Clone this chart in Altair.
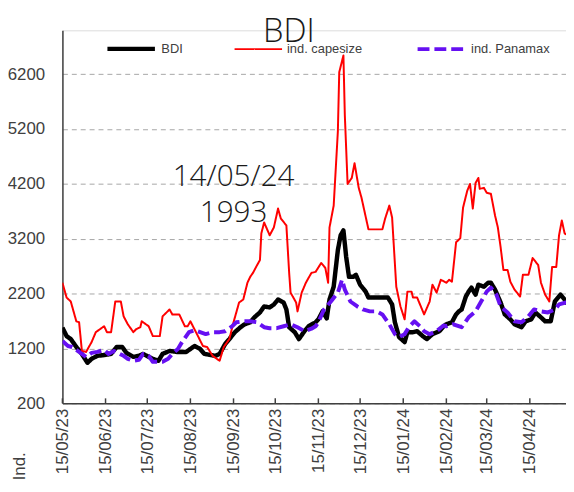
import altair as alt
import pandas as pd

START = "2023-05-15"
SERIES = ["BDI", "ind. capesize", "ind. Panamax"]
COLORS = ["#000000", "#ff0000", "#6610f2"]

# days after 15/05/23 and index values
bdi_days = [0,3,6,10,13,18,21,25,31,35,39,43,46,51,55,58,62,65,69,72,77,82,89,91,95,99,102,106,110,113,
            117,120,124,128,131,135,138,142,145,149,152,155,159,161,163,167,170,174,177,182,184,187,190,192,195,
            198,200,202,204,206,209,211,214,218,220,234,237,239,242,246,248,252,255,259,262,266,271,274,276,280,
            283,285,287,290,292,294,297,299,303,306,308,311,315,318,322,325,330,333,337,340,344,347,351,354,358,
            361,362,365]
bdi_vals = [1580,1425,1371,1227,1137,939,1011,1065,1083,1101,1227,1227,1119,1047,1065,1101,1047,1011,975,1101,
            1155,1137,1137,1173,1245,1191,1101,1083,1065,1101,1281,1371,1497,1587,1641,1677,1767,1857,1966,1948,
            2002,2092,2038,1911,1587,1497,1371,1515,1605,1677,1731,1876,1749,2092,2326,2993,3263,3353,2866,2506,
            2506,2542,2362,2236,2128,2128,2002,1677,1407,1317,1497,1497,1515,1425,1371,1461,1515,1605,1641,1677,
            1821,1876,1911,2146,2236,2308,2182,2362,2326,2398,2398,2272,2038,1821,1731,1641,1587,1695,1731,1857,
            1767,1695,1695,2056,2182,2092,2038,1993]

cape_days = [0,3,6,10,12,14,17,21,24,30,32,35,38,42,44,47,51,53,56,57,62,65,70,72,77,79,84,88,90,92,
             96,101,104,108,113,116,120,123,127,130,133,135,137,140,142,143,145,149,152,155,157,161,163,164,168,
             169,172,175,179,182,186,189,191,192,195,198,199,202,203,205,208,210,213,215,220,230,232,235,237,240,
             243,246,248,251,252,255,260,264,266,269,272,276,278,280,283,286,288,291,293,295,297,299,300,303,305,
             308,311,313,315,317,320,322,325,329,331,335,338,342,344,347,350,352,355,357,359,361,362,365]
cape_vals = [2398,2128,2056,1695,1677,1155,1137,1317,1497,1605,1497,1497,2056,2056,1785,1641,1497,1551,1587,1695,
             1605,1425,1425,1785,1911,1821,1821,1605,1605,1695,1497,1245,1227,1065,975,1227,1371,1677,2038,2092,
             2398,2506,2578,2722,2812,3299,3497,3263,3407,3750,3569,3443,2578,2218,2038,1876,2218,2398,2578,2596,
             2758,2668,2398,3407,3804,5155,6236,6542,5461,4200,4308,4578,4128,3948,3371,3371,3569,3804,3587,2326,
             1966,1731,2236,2236,2128,2128,1821,2056,2362,2218,2452,2398,2452,2416,3137,3209,3768,4074,4200,3750,
             4218,4308,4110,4128,4038,4020,3623,3407,3047,2632,2632,2416,2272,2146,2542,2542,2848,2722,2398,2182,
             2056,2686,2686,3263,3533,3299,3281,3280]

pmx_days = [0,4,7,12,17,21,25,30,33,37,40,44,47,51,55,58,62,65,69,72,76,79,83,86,91,95,99,103,108,113,
            117,122,125,130,135,140,145,149,154,159,164,169,174,179,182,184,188,193,198,201,203,207,212,216,221,
            226,230,235,239,242,246,249,253,257,260,264,269,274,276,281,287,292,297,301,305,308,312,315,320,325,
            330,335,339,344,349,354,357,362,365]
pmx_vals = [1335,1245,1227,1137,1047,1119,1137,1173,1101,1155,1119,1065,1011,975,993,1101,1065,957,957,957,
            1011,1101,1191,1317,1497,1533,1497,1461,1497,1497,1515,1605,1677,1695,1695,1677,1587,1569,1569,1605,
            1641,1587,1515,1560,1605,1677,1911,2056,2218,2452,2272,2056,1966,1911,1876,1876,1821,1641,1461,1407,
            1461,1587,1695,1605,1515,1461,1515,1620,1605,1641,1587,1767,1876,2056,2236,2308,2182,1966,1857,1695,
            1677,1785,1911,1876,1857,1911,2002,2038,2040]

tick_dates = ["2023-05-15", "2023-06-15", "2023-07-15", "2023-08-15", "2023-09-15", "2023-10-15",
              "2023-11-15", "2023-12-15", "2024-01-15", "2024-02-15", "2024-03-15", "2024-04-15"]
y_ticks = [200, 1200, 2200, 3200, 4200, 5200, 6200]
TITLE = "BDI"
Y_TITLE = "Ind."

PLOT_W, PLOT_H = 509, 377
FONT = "Liberation Sans"
LIGHT = "Open Sans"
GREY = "#404040"


def frame(days, vals, name):
    return pd.DataFrame({
        "date": pd.Timestamp(START) + pd.to_timedelta(days, unit="D"),
        "value": vals,
        "series": name,
    })


bdi_df = frame(bdi_days, bdi_vals, SERIES[0])
data = pd.concat([bdi_df, frame(cape_days, cape_vals, SERIES[1]), frame(pmx_days, pmx_vals, SERIES[2])])
data["date"] = data["date"].dt.strftime("%Y-%m-%dT00:00:00")

last_date = pd.Timestamp(START) + pd.Timedelta(days=bdi_days[-1])
ann_df = pd.DataFrame({"t": [last_date.strftime("%d/%m/%y"), str(bdi_vals[-1])], "row": [0, 1]})


def dt(s):
    t = pd.Timestamp(s)
    return alt.DateTime(year=t.year, month=t.month, date=t.day)


x_scale = alt.Scale(domain=[dt("2023-05-15"), dt("2024-05-11")])
y_scale = alt.Scale(domain=[200, 7000], nice=False, zero=False)

x_axis = alt.Axis(values=[dt(s) for s in tick_dates], format="%d/%m/%y", labelAngle=270,
                  labelAlign="right", labelBaseline="middle", labelFlush=False, labelOverlap=False,
                  labelFont=FONT, labelFontSize=17, labelColor=GREY, labelPadding=5,
                  ticks=False, grid=False, title=None, domainColor=GREY, domainWidth=1.5)
y_axis = alt.Axis(values=y_ticks, format="d", labelFont=FONT, labelFontSize=17, labelColor=GREY,
                  labelPadding=18, ticks=False, grid=True, gridDash=[5, 4], gridColor="#a6a6a6", gridWidth=1,
                  domainColor=GREY, domainWidth=1.5,
                  title=Y_TITLE, titleAngle=270, titleX=-43, titleY=426, titleAlign="right",
                  titleBaseline="middle", titleFont=FONT, titleFontSize=17, titleFontWeight="normal",
                  titleColor=GREY)

legend = alt.Legend(orient="none", legendX=43, legendY=-8, direction="horizontal", title=None,
                    symbolType="stroke", symbolSize=2304, labelFont=FONT, labelFontSize=13,
                    labelColor=GREY, labelOffset=4, columnPadding=48)

base = alt.Chart(data).mark_line(clip=True, strokeJoin="round").encode(
    x=alt.X("date:T", scale=x_scale, axis=x_axis),
    y=alt.Y("value:Q", scale=y_scale, axis=y_axis),
    color=alt.Color("series:N", scale=alt.Scale(domain=SERIES, range=COLORS), legend=legend),
    strokeWidth=alt.StrokeWidth("series:N",
                                scale=alt.Scale(type="ordinal", domain=SERIES, range=[4.5, 2, 4]),
                                legend=legend),
    strokeDash=alt.StrokeDash("series:N", scale=alt.Scale(domain=SERIES, range=[[1, 0], [1, 0], [12, 5]]),
                              legend=legend),
)

lines = [base.transform_filter(alt.datum.series == s) for s in SERIES]

ticks = alt.Chart(pd.DataFrame({"date": [d + "T00:00:00" for d in tick_dates]})).mark_rule(
    color=GREY, strokeWidth=1.5).encode(
    x=alt.X("date:T", scale=x_scale),
    y=alt.value(PLOT_H - 5), y2=alt.value(PLOT_H))

title = alt.Chart(pd.DataFrame({"t": [TITLE]})).mark_text(
    font=LIGHT, fontSize=33, fontWeight=300, color="#1a1a1a", align="center", baseline="alphabetic"
).encode(x=alt.value(229), y=alt.value(12), text="t:N")

ann1 = alt.Chart(ann_df).transform_filter(alt.datum.row == 0).mark_text(
    font=LIGHT, fontSize=30, fontWeight=300, color="#1a1a1a", align="center", baseline="alphabetic"
).encode(x=alt.value(173), y=alt.value(157), text="t:N")
ann2 = alt.Chart(ann_df).transform_filter(alt.datum.row == 1).mark_text(
    font=LIGHT, fontSize=30, fontWeight=300, color="#1a1a1a", align="center", baseline="alphabetic"
).encode(x=alt.value(173), y=alt.value(194), text="t:N")

chart = alt.layer(*lines, ticks, title, ann1, ann2).properties(
    width=PLOT_W, height=PLOT_H,
    padding={"left": 55, "top": 20, "right": 0, "bottom": 79},
    autosize=alt.AutoSizeParams(type="none"),
).configure_view(stroke=None).configure(background="white")

chart.save("out.html", embed_options={"renderer": "svg", "actions": False})
